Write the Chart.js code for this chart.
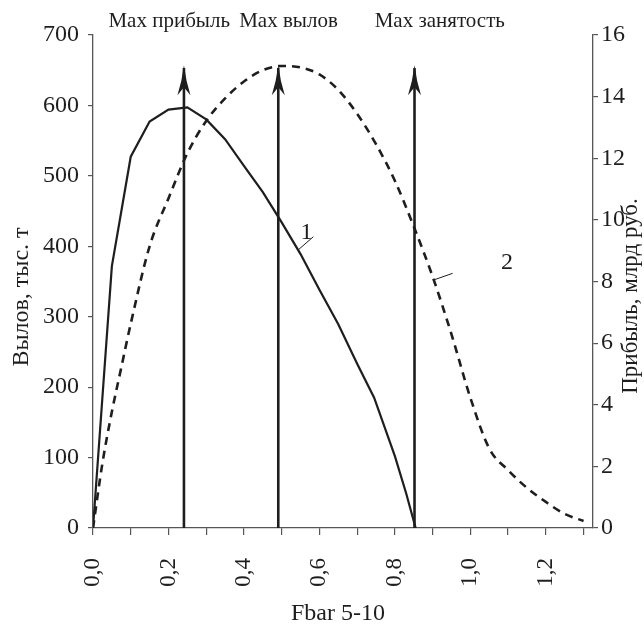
<!DOCTYPE html>
<html lang="ru">
<head>
<meta charset="UTF-8">
<title>Fbar 5-10</title>
<script src="https://cdn.jsdelivr.net/npm/chart.js"></script>
<style>
  html, body { margin: 0; padding: 0; background: #fff; }
  #chart { display: block; }
</style>
</head>
<body>
<canvas id="chart" width="644" height="628"></canvas>
<script>
  // Fbar, tick marks every 0.1 (labels on every second one)
  const fbarTicks = [0, 0.1, 0.2, 0.3, 0.4, 0.5, 0.6, 0.7, 0.8, 0.9, 1.0, 1.1, 1.2, 1.3];

  // curve 1 - profit, bln rub (right axis)
  const profitX = [0, 0.05, 0.1, 0.15, 0.2, 0.25, 0.3, 0.35, 0.4, 0.45, 0.5, 0.55, 0.6, 0.65, 0.7, 0.745, 0.8, 0.83, 0.855];
  const profitY = [0, 8.5, 12.05, 13.19, 13.58, 13.65, 13.26, 12.62, 11.75, 10.9, 9.92, 8.89, 7.73, 6.61, 5.33, 4.23, 2.33, 1.12, 0];

  // curve 2 - catch, thousand t (left axis)
  const catchX = [0, 0.025, 0.05, 0.075, 0.1, 0.15, 0.2, 0.25, 0.3, 0.35, 0.4, 0.45, 0.5, 0.55, 0.6, 0.65, 0.7, 0.75, 0.8, 0.85, 0.9, 0.95, 1.0, 1.05, 1.1, 1.15, 1.2, 1.25, 1.3];
  const catchY = [0, 92, 165, 228, 290, 400, 468, 532, 578, 610, 634, 650, 656, 654, 644, 622, 588, 545, 493, 428, 357, 275, 185, 113, 82, 57, 37, 20, 10];

  // vertical arrows: Max profit / Max catch / Max employment
  const arrowX = [0.241, 0.491, 0.852];
  const arrowTop = 657;
  const arrowLabels = ['Max прибыль', 'Max вылов', 'Max занятость'];

  const ink = '#1e1e1e';
  const axisInk = '#555';
  const serif = "'Liberation Serif', 'Times New Roman', serif";

  const xy = (xs, ys) => xs.map((v, i) => ({ x: v, y: ys[i] }));

  const arrowSets = arrowX.map(v => ({
    data: [{ x: v, y: 0 }, { x: v, y: arrowTop - 4 }],
    yAxisID: 'yL',
    borderColor: ink,
    borderWidth: 2.6,
    pointRadius: 0,
    tension: 0
  }));

  // text, arrowheads, leader lines
  const extras = {
    id: 'extras',
    afterDatasetsDraw(chart) {
      const { ctx, scales: { x, yL } } = chart;
      ctx.save();
      ctx.fillStyle = ink;
      ctx.strokeStyle = ink;

      arrowX.forEach(v => {
        const px = x.getPixelForValue(v);
        const py = yL.getPixelForValue(arrowTop);
        ctx.beginPath();
        ctx.moveTo(px, py);
        ctx.quadraticCurveTo(px + 2, py + 16, px + 6.5, py + 30);
        ctx.lineTo(px, py + 22);
        ctx.lineTo(px - 6.5, py + 30);
        ctx.quadraticCurveTo(px - 2, py + 16, px, py);
        ctx.fill();
      });

      // top captions
      ctx.font = '21px ' + serif;
      ctx.textAlign = 'center';
      ctx.textBaseline = 'alphabetic';
      const capX = [0.202, 0.518, 0.919];
      arrowLabels.forEach((t, i) => ctx.fillText(t, x.getPixelForValue(capX[i]), 27));

      // curve numbers with leader ticks
      ctx.lineWidth = 1;
      [[0.544, 395, 0.584, 413.6], [0.902, 352, 0.953, 361.6]].forEach(l => {
        ctx.beginPath();
        ctx.moveTo(x.getPixelForValue(l[0]), yL.getPixelForValue(l[1]));
        ctx.lineTo(x.getPixelForValue(l[2]), yL.getPixelForValue(l[3]));
        ctx.stroke();
      });
      ctx.font = '24px ' + serif;
      ctx.textBaseline = 'middle';
      ctx.fillText('1', x.getPixelForValue(0.566), yL.getPixelForValue(419));
      ctx.fillText('2', x.getPixelForValue(1.097), yL.getPixelForValue(376));

      // axis titles
      ctx.font = '24px ' + serif;
      ctx.textBaseline = 'alphabetic';
      ctx.fillText('Fbar 5-10', 338, 620);

      ctx.font = '24px ' + serif;
      ctx.save();
      ctx.translate(28, 297);
      ctx.rotate(-Math.PI / 2);
      ctx.fillText('Вылов, тыс. т', 0, 0);
      ctx.restore();

      ctx.font = '23px ' + serif;
      ctx.save();
      ctx.translate(637, 296);
      ctx.rotate(-Math.PI / 2);
      ctx.fillText('Прибыль, млрд руб.', 0, 0);
      ctx.restore();

      ctx.restore();
    }
  };

  new Chart(document.getElementById('chart'), {
    type: 'line',
    data: {
      datasets: [
        {
          data: xy(profitX, profitY),
          yAxisID: 'yR',
          borderColor: ink,
          borderWidth: 2.2,
          pointRadius: 0,
          tension: 0
        },
        {
          data: xy(catchX, catchY),
          yAxisID: 'yL',
          borderColor: ink,
          borderWidth: 2.6,
          borderDash: [8, 6],
          pointRadius: 0,
          cubicInterpolationMode: 'monotone'
        },
        ...arrowSets
      ]
    },
    options: {
      responsive: false,
      animation: false,
      devicePixelRatio: 1,
      layout: { padding: { top: 35, left: 0, right: 0, bottom: 0 } },
      plugins: { legend: { display: false }, tooltip: { enabled: false } },
      scales: {
        x: {
          type: 'linear',
          min: 0,
          max: 1.325,
          afterBuildTicks: s => { s.ticks = fbarTicks.map(v => ({ value: v })); },
          afterFit: s => { s.height = 100; },
          grid: { drawOnChartArea: false, color: axisInk, tickLength: 7, lineWidth: 1.2 },
          border: { color: axisInk, width: 1.3 },
          ticks: {
            autoSkip: false,
            minRotation: 90,
            maxRotation: 90,
            padding: 23,
            color: ink,
            font: { family: serif, size: 23 },
            callback: (v, i) => (i % 2 === 0 ? v.toFixed(1).replace('.', ',') : '')
          }
        },
        yL: {
          position: 'left',
          min: 0,
          max: 700,
          afterFit: s => { s.width = 93; },
          grid: { drawOnChartArea: false, color: axisInk, tickLength: 5, lineWidth: 1.2 },
          border: { color: axisInk, width: 1.3 },
          ticks: { stepSize: 100, padding: 9, color: ink, font: { family: serif, size: 24 } }
        },
        yR: {
          position: 'right',
          min: 0,
          max: 16,
          afterFit: s => { s.width = 51; },
          grid: { drawOnChartArea: false, color: axisInk, tickLength: 5, lineWidth: 1.2 },
          border: { color: axisInk, width: 1.3 },
          ticks: { stepSize: 2, padding: 3, color: ink, font: { family: serif, size: 24 } }
        }
      }
    },
    plugins: [extras]
  });
</script>
</body>
</html>
